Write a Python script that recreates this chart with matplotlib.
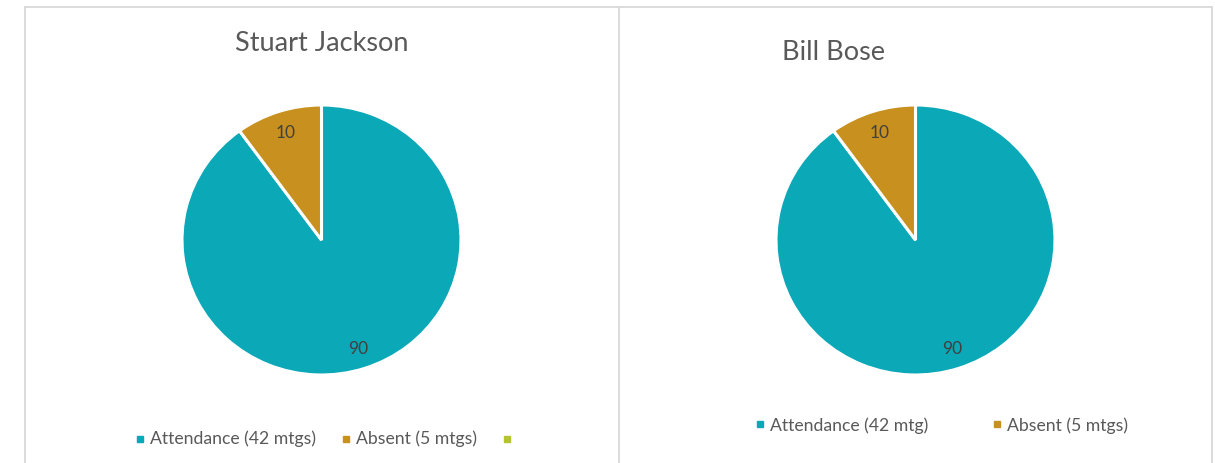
import matplotlib
matplotlib.use("Agg")
import matplotlib.pyplot as plt
from matplotlib.lines import Line2D

# ---- data ----
titles = ["Stuart Jackson", "Bill Bose"]
values_left = [90, 10]
values_right = [90, 10]
legend_left = ["Attendance (42 mtgs)", "Absent (5 mtgs)", ""]
legend_right = ["Attendance (42 mtg)", "Absent (5 mtgs)"]
colors = ["#0ba8b8", "#c8901e", "#b5c42c"]

W, H = 1215, 464
DPI = 100
fig = plt.figure(figsize=(W / DPI, H / DPI), dpi=DPI)
plt.rcParams['font.family'] = ['Lato', 'DejaVu Sans']

TXT = "#595959"
LBL = "#404040"
BORDER = "#d9d9d9"

def fx(px):
    return px / W

def fy(py):
    return 1 - py / H

# panel borders
for xs, ys in [([24.5, 24.5], [7.5, H]), ([619, 619], [7.5, H]), ([1212, 1212], [7.5, H]),
               ([24.5, 1212], [7.5, 7.5])]:
    fig.add_artist(Line2D([fx(x) for x in xs], [fy(y) for y in ys], color=BORDER, lw=1.3))

def draw_pie(cx, cy, rx, ry, vals, title, tx, tbase):
    ax = fig.add_axes([fx(cx - rx), fy(cy + ry), rx * 2 / W, ry * 2 / H])
    wedges, texts = ax.pie(vals, colors=colors[:len(vals)], startangle=90, counterclock=False,
                           labels=[str(v) for v in vals], labeldistance=0.84,
                           wedgeprops=dict(edgecolor="white", linewidth=2.2, clip_on=False),
                           textprops=dict(color=LBL, fontsize=12.5, ha="center", va="center"))
    ax.set_aspect("auto")
    ax.set_xlim(-1, 1)
    ax.set_ylim(-1, 1)
    ax.axis("off")
    fig.text(fx(tx), fy(tbase), title, ha="center", va="baseline", fontsize=19.5, color=TXT)
    return ax

draw_pie(321.5, 241, 139.5, 135, values_left, titles[0], 322, 51)
draw_pie(915.5, 241, 139.5, 135, values_right, titles[1], 834, 59.5)

def draw_legend(labels, marker_xs, ymid, baseline):
    for i, (lab, mx) in enumerate(zip(labels, marker_xs)):
        fig.add_artist(Line2D([fx(mx)], [fy(ymid)], marker="s", markersize=5,
                              color=colors[i], linestyle="none"))
        if lab:
            fig.text(fx(mx + 10.5), fy(baseline), lab, ha="left", va="baseline",
                     fontsize=12.7, color=TXT)

draw_legend(legend_left, [139.5, 345.5, 506.5], 439.5, 444.3)
draw_legend(legend_right, [760, 996.5], 425, 430.7)

fig.savefig("out.png", dpi=DPI, facecolor="white")
